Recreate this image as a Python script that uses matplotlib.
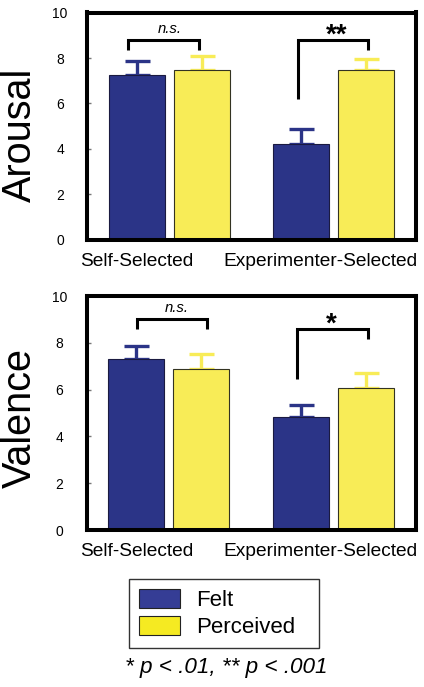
import matplotlib
matplotlib.use('Agg')
import matplotlib.pyplot as plt
from matplotlib.patches import Patch
import numpy as np

plt.rcParams['font.family'] = ['Liberation Sans', 'DejaVu Sans']

# ---- data ----
conditions = ['Self-Selected', 'Experimenter-Selected']
series = ['Felt', 'Perceived']
y_ticks = [0, 2, 4, 6, 8, 10]

arousal_felt = [7.27, 4.21]
arousal_felt_err = [0.60, 0.65]
arousal_perceived = [7.46, 7.46]
arousal_perceived_err = [0.62, 0.50]

valence_felt = [7.31, 4.83]
valence_felt_err = [0.55, 0.50]
valence_perceived = [6.88, 6.07]
valence_perceived_err = [0.65, 0.65]

arousal_sig = ['n.s.', '**']
valence_sig = ['n.s.', '*']
footnote = '* p < .01, ** p < .001'

# ---- style ----
felt_color = '#2B3487'
perc_color = '#F8EC57'
legend_colors = ['#353D95', '#F5EA22']

W, H = 424, 687
fig = plt.figure(figsize=(W / 100, H / 100), dpi=100)


def px_axes(left, top, right, bottom):
    return fig.add_axes([left / W, 1 - bottom / H, (right - left) / W, (bottom - top) / H])


def draw_panel(ax, felt, felt_err, perc, perc_err, ylabel, ylabel_y, sig, brackets, label_x):
    x = np.arange(len(conditions))
    off, bw = 0.198, 0.34
    ax.bar(x - off, felt, bw, color=felt_color, edgecolor='#1a1a40', linewidth=0.8, zorder=2)
    ax.bar(x + off, perc, bw, color=perc_color, edgecolor='#333322', linewidth=0.8, zorder=2)
    ax.errorbar(x - off, felt, yerr=[np.zeros(len(felt)), felt_err], fmt='none',
                ecolor=felt_color, elinewidth=2.4, capsize=9, capthick=2.4, zorder=1)
    ax.errorbar(x + off, perc, yerr=[np.zeros(len(perc)), perc_err], fmt='none',
                ecolor=perc_color, elinewidth=2.4, capsize=9, capthick=2.4, zorder=1)
    ax.set_xlim(-0.5, 1.5)
    ax.set_ylim(0, 10)
    ax.set_yticks(y_ticks)
    ax.set_yticklabels([str(t) for t in y_ticks], fontsize=10)
    for lab in ax.get_yticklabels():
        lab.set_horizontalalignment('center')
    ax.tick_params(axis='y', direction='in', length=3, width=1, color='#777777', pad=19.4)
    ax.set_xticks(label_x)
    ax.set_xticklabels(conditions, fontsize=13.8)
    ax.tick_params(axis='x', length=0, pad=9.4)
    for s in ax.spines.values():
        s.set_linewidth(2.9)
        s.set_color('black')
    fig.text(19.5 / W, 1 - ylabel_y / H, ylabel, rotation=90, fontsize=28.5,
             ha='center', va='center')
    for (x0, x1, ytop, yl, yr, tx, ty), s in zip(brackets, sig):
        ax.plot([x0, x0, x1, x1], [yl, ytop, ytop, yr], color='black', lw=2.2,
                solid_joinstyle='miter', solid_capstyle='butt', zorder=3)
        if s == 'n.s.':
            ax.text(tx, ty, s, ha='center', va='baseline', fontsize=10.7, style='italic')
        else:
            ax.text(tx, ty, s, ha='center', va='baseline', fontsize=20, fontweight='bold')


ax1 = px_axes(87, 12.5, 416, 240)
draw_panel(ax1, arousal_felt, arousal_felt_err, arousal_perceived, arousal_perceived_err,
           'Arousal', 135, arousal_sig,
           [(-0.25, 0.18, 8.77, 8.36, 8.36, 0.0, 9.12),
            (0.78, 1.21, 8.77, 6.18, 8.33, 1.02, 8.68)],
           [-0.196, 0.92])

ax2 = px_axes(86.5, 296, 415.5, 530)
draw_panel(ax2, valence_felt, valence_felt_err, valence_perceived, valence_perceived_err,
           'Valence', 418.5, valence_sig,
           [(-0.19, 0.23, 9.03, 8.59, 8.59, 0.05, 9.32),
            (0.78, 1.21, 8.60, 6.45, 8.16, 0.99, 8.47)],
           [-0.196, 0.92])

handles = [Patch(facecolor=c, edgecolor='#222222', linewidth=0.8) for c in legend_colors]
leg = fig.legend(handles, series, loc='upper left',
                 bbox_to_anchor=(129 / W, 1 - 649 / H, 190 / W, 70 / H),
                 bbox_transform=fig.transFigure, mode='expand', borderaxespad=0,
                 fontsize=16, handlelength=1.85, handleheight=0.95, handletextpad=0.72,
                 borderpad=0.45, labelspacing=0.22, fancybox=False, frameon=True,
                 edgecolor='black')
leg.get_frame().set_linewidth(1.0)

fig.text(226.5 / W, 1 - 673 / H, footnote, ha='center', va='baseline',
         fontsize=16.2, style='italic')

fig.savefig('out.png', dpi=100)
